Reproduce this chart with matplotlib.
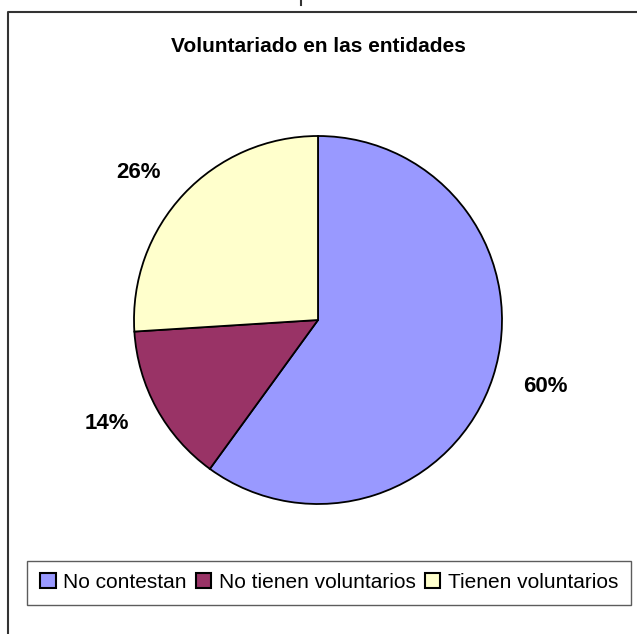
import matplotlib.pyplot as plt
from matplotlib.lines import Line2D

categories = ["No contestan", "No tienen voluntarios", "Tienen voluntarios"]
values = [60, 14, 26]
colors = ["#9999FF", "#993366", "#FFFFCC"]
title = "Voluntariado en las entidades"

W, H = 637, 634
FONT = ["Liberation Sans Narrow", "Liberation Sans", "DejaVu Sans"]

fig = plt.figure(figsize=(W / 100, H / 100), dpi=100)
fig.patch.set_facecolor("white")

# pie axes: centre (318, 320), radius 184 in pixels
cx, cy, r = 318, 320, 184
ax = fig.add_axes([(cx - r) / W, (H - cy - r) / H, 2 * r / W, 2 * r / H])
wedges, texts = ax.pie(values, colors=colors, startangle=90, counterclock=False,
                       labels=[f"{v}%" for v in values], labeldistance=1.17,
                       wedgeprops=dict(edgecolor="black", linewidth=1.3),
                       textprops=dict(fontsize=16, fontweight="bold", family=FONT))
ax.set_aspect("auto")
ax.set_xlim(-1, 1)
ax.set_ylim(-1, 1)
ax.axis("off")

fig.text(cx / W, 1 - 47 / H, title, ha="center", va="center",
         fontsize=15, fontweight="bold", family=FONT)

# chart area frame (left and top edges visible)
fig.add_artist(Line2D([8 / W, 8 / W, 1], [0, 1 - 12 / H, 1 - 12 / H],
                      color="#333333", linewidth=1.5, transform=fig.transFigure))
fig.add_artist(Line2D([301 / W, 301 / W], [1, 1 - 5 / H],
                      color="#333333", linewidth=1.5, transform=fig.transFigure))

leg = fig.legend(wedges, categories, loc="center",
                 bbox_to_anchor=(329 / W, 1 - 582.5 / H), ncol=3,
                 frameon=True, fancybox=False, shadow=False,
                 prop=dict(family=FONT, size=15),
                 handlelength=0.75, handleheight=0.75, handletextpad=0.35,
                 columnspacing=0.45, borderpad=0.6, borderaxespad=0)
leg.get_frame().set_edgecolor("#333333")
leg.get_frame().set_linewidth(1.0)
for h in leg.legend_handles:
    h.set_edgecolor("black")
    h.set_linewidth(1.5)

fig.savefig("out.png", dpi=100, facecolor="white")
